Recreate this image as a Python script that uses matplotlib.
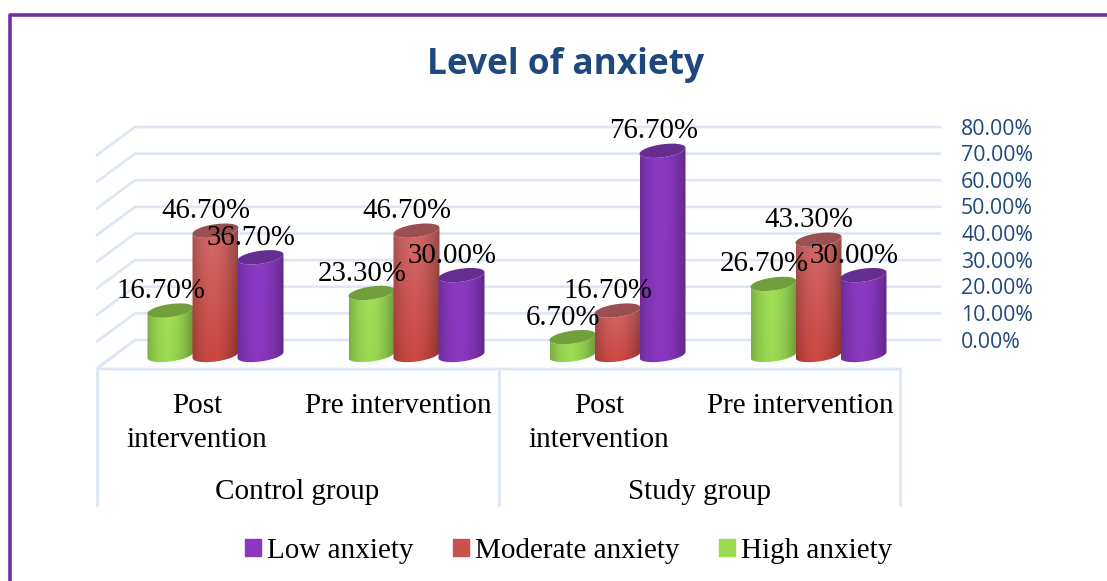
import numpy as np
import matplotlib
matplotlib.use('Agg')
import matplotlib.pyplot as plt
from matplotlib.path import Path
from matplotlib.patches import Patch
from matplotlib.colors import to_rgb

# values (percent)
sub_labels = ['Post\nintervention', 'Pre intervention', 'Post\nintervention', 'Pre intervention']
group_labels = ['Control group', 'Study group']
high = [16.7, 23.3, 6.7, 26.7]
moderate = [46.7, 46.7, 16.7, 43.3]
low = [36.7, 30.0, 76.7, 30.0]
ticks = [0, 10, 20, 30, 40, 50, 60, 70, 80]

W, H = 1107, 581
DX = 201.0      # pixels per category
DY = 2.6625     # pixels per percent
X0, Y0 = 216, 355   # pixel of first category / zero level of the bars

BLUE = '#1F497D'
GRID = '#DCE6F4'
BORDER = '#7030A0'
serif = 'Liberation Serif'

fig = plt.figure(figsize=(W/100, H/100), dpi=100, facecolor='w')
ax = fig.add_axes([0, 0, 1, 1])


def xp(px):
    return (px - X0)/DX


def yp(py):
    return (Y0 - py)/DY


def cylinder(cx, v, top, bottom, cap):
    a = 23.0/DX
    b = 6.5/DY
    tilt = 3.0/DY
    t = np.linspace(np.pi, 2*np.pi, 40)
    bx = cx + a*np.cos(t)
    by = tilt*np.cos(t) + b*np.sin(t)
    tt = t[::-1]
    ux = cx + a*np.cos(tt)
    uy = v + tilt*np.cos(tt) + b*np.sin(tt)
    body = Path(np.column_stack([np.r_[bx, ux, bx[0]], np.r_[by, uy, by[0]]]), closed=False)
    # horizontal shading of the round side, vertical blend top to bottom
    u = np.linspace(0, 1, 60)
    shade = 1 - 0.3*np.abs((u - 0.45)/0.55)**1.8
    w = np.linspace(0, 1, 40)[:, None, None]
    img = (np.array(to_rgb(top))*(1 - w) + np.array(to_rgb(bottom))*w)*shade[None, :, None]
    im = ax.imshow(np.clip(img, 0, 1), extent=(cx-a, cx+a, -b-tilt, v+b+tilt), aspect='auto',
                   interpolation='bilinear', zorder=3)
    im.set_clip_path(body, ax.transData)
    s = np.linspace(0, 2*np.pi, 80)
    ax.fill(cx + a*np.cos(s), v + tilt*np.cos(s) + b*np.sin(s), color=cap, lw=0, zorder=3)


# back wall and side wall
for v in ticks:
    back = v + yp(340)
    ax.plot([xp(97), xp(135), xp(940)], [back - 28/DY, back, back], color=GRID, lw=1.9, zorder=1)
ax.plot([xp(135), xp(97), xp(900)], [yp(340), yp(369), yp(369)], color=GRID, lw=1.9, zorder=1)
for px in [97, 499, 900]:
    ax.plot([xp(px), xp(px)], [yp(369), yp(505)], color=GRID, lw=1.9, zorder=1)

# bars
series = [(high, -1, '#9FE055', '#9ADB52', '#709F3C'),
          (moderate, 0, '#D46C6A', '#CC4640', '#9A5050'),
          (low, 1, '#8C3AC4', '#8A38C0', '#662D91')]
for i in range(4):
    for vals, k, top, bottom, cap in series:
        cylinder(i + k*45/DX - 0.5/DX, vals[i], top, bottom, cap)
    for vals, k, top, bottom, cap in series:
        ax.annotate('%.2f%%' % vals[i], (i + k*45/DX, vals[i]), xytext=(-7, 14),
                    textcoords='offset points', ha='center', va='center',
                    family=serif, fontsize=20.8, color='k', zorder=5)

# category labels
for i, lab in enumerate(sub_labels):
    ax.text(xp(197) + i, yp(423 if '\n' in lab else 406), lab, ha='center', va='center',
            family=serif, fontsize=21, color='k', linespacing=1.42)
for i, lab in enumerate(group_labels):
    ax.text(xp(297) + 2*i, yp(492), lab, ha='center', va='center',
            family=serif, fontsize=21, color='k')

# value axis on the right
for v in ticks:
    ax.text(xp(961), v + yp(342), '%.2f%%' % v, ha='left', va='center',
            family='Open Sans', fontsize=15.3, color=BLUE)

ax.text(xp(565.5), yp(65), 'Level of anxiety', ha='center', va='center',
        family='Open Sans', fontweight='bold', fontsize=25.4, color=BLUE)

# legend
handles = [Patch(color='#8A38C0', label='Low anxiety'),
           Patch(color='#C9504C', label='Moderate anxiety'),
           Patch(color='#9ADB52', label='High anxiety')]
ax.legend(handles=handles, ncol=3, loc='center', bbox_to_anchor=(569/W, 1 - 551/H),
          bbox_transform=fig.transFigure, frameon=False,
          prop={'family': serif, 'size': 21}, handlelength=0.54, handleheight=0.54,
          handletextpad=0.22, columnspacing=1.35, borderpad=0)

# frame of the picture
ax.plot([xp(10.5), xp(10.5), xp(W)], [yp(H), yp(15), yp(15)], color=BORDER, lw=2.6, zorder=6)

ax.set_xlim(xp(0), xp(W))
ax.set_ylim(yp(H), yp(0))
ax.axis('off')
fig.savefig('out.png', dpi=100, facecolor='w')
